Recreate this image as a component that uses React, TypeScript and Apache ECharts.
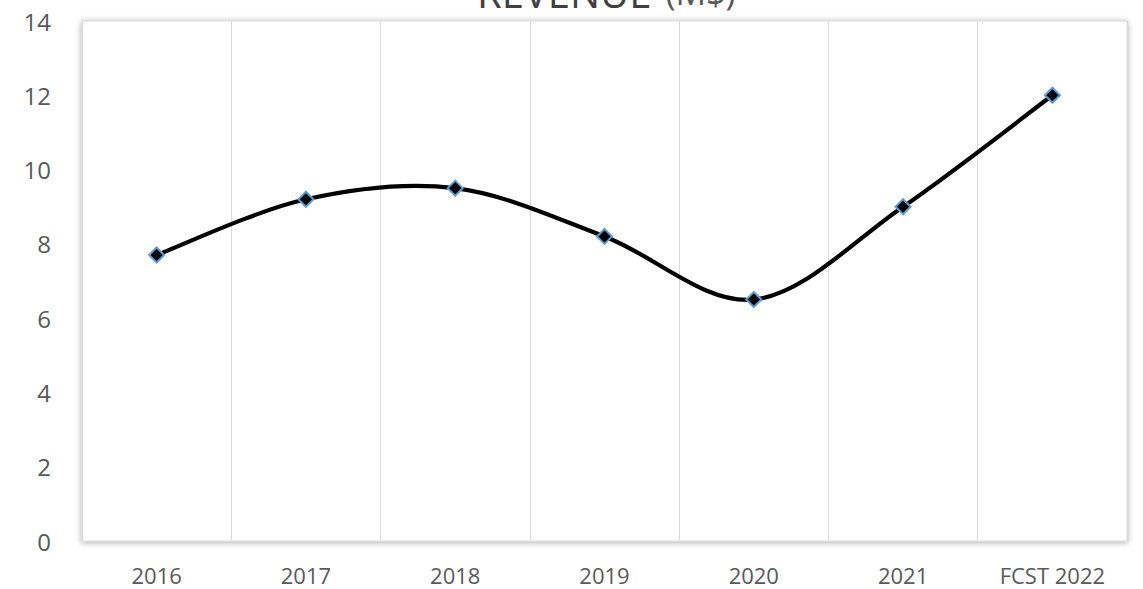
import React, { useEffect, useRef } from "react";
import * as echarts from "echarts";

const categories = ["2016", "2017", "2018", "2019", "2020", "2021", "FCST 2022"];
const revenue = [7.7, 9.2, 9.5, 8.2, 6.5, 9.0, 12.0];
const yTicks = { min: 0, max: 14, interval: 2 };
const titleMain = "REVENUE";
const titleUnit = "(M$)";

export default function App() {
  const ref = useRef<HTMLDivElement>(null);
  useEffect(() => {
    if (!ref.current) return;
    const chart = echarts.init(ref.current, null, { renderer: "svg" });
    const n = revenue.length;
    const clampIdx = (k: number) => Math.max(0, Math.min(n - 1, k));
    chart.setOption({
      animation: false,
      backgroundColor: "#ffffff",
      title: {
        text: `{a|${titleMain}}{b|${titleUnit}}`,
        left: 472,
        top: -33,
        textStyle: {
          rich: {
            a: { fontFamily: "Open Sans", fontSize: 40, color: "#404040", fontWeight: 400, padding: [0, 14, 0, 0] },
            b: { fontFamily: "Open Sans", fontSize: 34, color: "#595959", fontWeight: 400 },
          },
        },
      },
      grid: {
        left: 82,
        right: 16,
        top: 21,
        bottom: 48,
        show: true,
        backgroundColor: "#ffffff",
        borderColor: "#D9D9D9",
        borderWidth: 1,
        shadowBlur: 6,
        shadowColor: "rgba(0,0,0,0.35)",
        shadowOffsetX: 0,
        shadowOffsetY: 1,
      },
      xAxis: {
        type: "category",
        data: categories,
        boundaryGap: true,
        axisLine: { show: false },
        axisTick: { show: false },
        splitLine: { show: true, lineStyle: { color: "#D9D9D9", width: 1 } },
        axisLabel: {
          color: "#595959",
          fontFamily: "Open Sans",
          fontSize: 22,
          margin: 23,
        },
      },
      yAxis: {
        type: "value",
        min: yTicks.min,
        max: yTicks.max,
        interval: yTicks.interval,
        axisLine: { show: false },
        axisTick: { show: false },
        splitLine: { show: false },
        axisLabel: {
          color: "#595959",
          fontFamily: "Open Sans",
          fontSize: 24,
          margin: 31,
        },
      },
      series: [
        {
          type: "custom",
          data: revenue.map((v, i) => [i, v]),
          encode: { x: 0, y: 1 },
          z: 2,
          silent: true,
          renderItem: (params: any, api: any) => {
            const i = params.dataIndex;
            if (i >= n - 1) return { type: "group", children: [] };
            const p = (k: number) => {
              const c = clampIdx(k);
              return api.coord([c, revenue[c]]);
            };
            const p0 = p(i - 1);
            const p1 = p(i);
            const p2 = p(i + 1);
            const p3 = p(i + 2);
            return {
              type: "bezierCurve",
              shape: {
                x1: p1[0],
                y1: p1[1],
                x2: p2[0],
                y2: p2[1],
                cpx1: p1[0] + (p2[0] - p0[0]) / 6,
                cpy1: p1[1] + (p2[1] - p0[1]) / 6,
                cpx2: p2[0] - (p3[0] - p1[0]) / 6,
                cpy2: p2[1] - (p3[1] - p1[1]) / 6,
              },
              style: { stroke: "#000000", lineWidth: 4.2, fill: null, lineCap: "round" },
            };
          },
        },
        {
          type: "line",
          data: revenue,
          lineStyle: { opacity: 0, width: 0 },
          symbol: "diamond",
          symbolSize: 15,
          itemStyle: { color: "#000000", borderColor: "#5B9BD5", borderWidth: 2 },
          z: 3,
        },
      ],
    });
    return () => chart.dispose();
  }, []);
  return (
    <div
      ref={ref}
      style={{ position: "fixed", left: 0, top: 0, width: 1143, height: 589 }}
    />
  );
}
